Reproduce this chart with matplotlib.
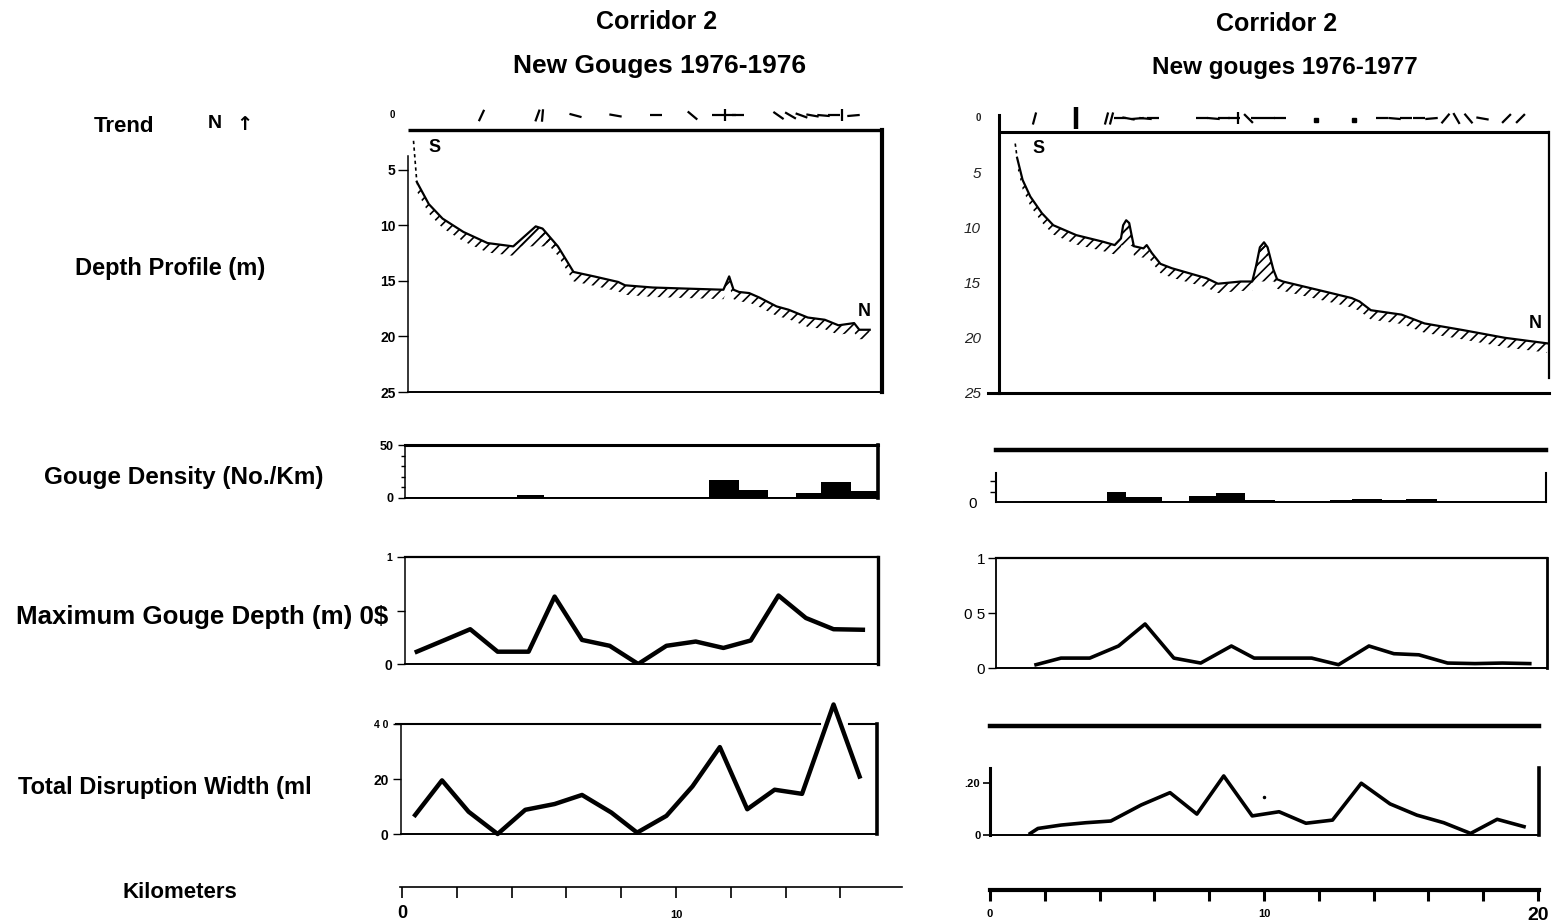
import matplotlib
matplotlib.use("Agg")
import matplotlib.pyplot as plt
import numpy as np

plt.rcParams["font.family"] = ["Liberation Sans", "DejaVu Sans"]
plt.rcParams["hatch.linewidth"] = 1.2

# ── values (x = km along corridor 2) ──
# left column: new gouges 1976-1976
prof_l_km = [0.42, 0.54, 0.98, 1.48, 2.24, 3.12, 4.06, 4.88, 5.13, 5.69, 6.26, 7.01,
             7.89, 8.14, 9.15, 10.41, 11.73, 11.94, 12.10, 12.30, 12.67, 13.04, 13.67,
             14.11, 14.81, 15.43, 15.93, 16.50, 16.69, 17.07]
prof_l_depth = [2.4, 6.1, 8.1, 9.4, 10.6, 11.6, 11.9, 10.1, 10.3, 11.9, 14.2, 14.6,
                15.1, 15.4, 15.6, 15.7, 15.8, 14.6, 15.8, 16.0, 16.1, 16.5, 17.3,
                17.6, 18.3, 18.5, 19.0, 18.8, 19.4, 19.4]
ridges_l = [(4.06, 5.69)]
trend_l_km = [2.87, 4.94, 5.12, 6.32, 7.77, 9.28, 10.60, 11.55, 11.80, 11.98, 12.25,
              13.74, 14.15, 14.55, 14.95, 15.35, 15.75, 16.05, 16.45]
trend_l_ang = [-25, -20, -5, 75, 80, 90, 50, 90, 0, 90, 90, 55, 60, 70, 80, 85, 90, 0, 95]

dens_l_edges = [0.16, 1.2, 4.2, 5.2, 11.2, 12.3, 13.36, 14.37, 15.31, 16.38, 17.32]
dens_l = [0.5, 1.2, 2.5, 1.2, 17, 8, 0.8, 4.5, 15.2, 6.3]

maxd_l_km = [0.54, 1.52, 2.49, 3.49, 4.62, 5.57, 6.57, 7.58, 8.62, 9.65, 10.72, 11.73,
             12.73, 13.74, 14.74, 15.75, 16.82]
maxd_l = [0.115, 0.22, 0.325, 0.115, 0.115, 0.63, 0.225, 0.17, 0.0, 0.17, 0.21, 0.15,
          0.22, 0.64, 0.43, 0.325, 0.32]

disr_l_km = [0.48, 1.46, 2.43, 3.49, 4.50, 5.57, 6.57, 7.64, 8.58, 9.65, 10.60, 11.60,
             12.60, 13.60, 14.60, 15.75, 16.70]
disr_l = [6.9, 19.5, 8.1, 0, 8.8, 10.9, 14.2, 7.8, 0.5, 6.6, 17.3, 31.6, 9.0, 16.1,
          14.6, 47.1, 20.9]

# right column: new gouges 1976-1977
prof_r_km = [0.92, 0.99, 1.19, 1.47, 1.89, 2.31, 3.15, 4.13, 4.55, 4.78, 4.86, 4.97,
             5.08, 5.16, 5.25, 5.60, 5.72, 5.90, 6.22, 6.64, 7.48, 7.90, 8.32, 9.15,
             9.57, 9.71, 9.85, 10.00, 10.13, 10.34, 10.48, 10.69, 11.53, 12.37, 13.20,
             13.48, 13.90, 15.02, 15.86, 17.26, 18.79, 20.33]
prof_r_depth = [2.4, 3.7, 5.7, 7.2, 8.7, 9.8, 10.7, 11.3, 11.6, 11.0, 9.8, 9.35,
                9.6, 10.6, 11.7, 11.9, 11.6, 12.3, 13.3, 13.7, 14.3, 14.6, 15.1, 14.9,
                14.9, 13.5, 11.8, 11.35, 11.8, 13.8, 14.7, 14.9, 15.4, 15.9, 16.4,
                16.7, 17.5, 17.9, 18.7, 19.3, 20.0, 20.5]
ridges_r = [(4.55, 5.25), (9.57, 10.69)]
trend_r_km = [1.61, 4.22, 4.42, 4.75, 5.05, 5.35, 5.65, 5.95, 7.75, 8.15, 8.55, 8.90,
              9.05, 9.40, 9.75, 10.20, 10.60, 14.30, 14.75, 15.20, 15.65, 16.10, 16.60,
              17.00, 17.45, 17.95, 18.85, 19.35]
trend_r_ang = [-15, -15, -15, 90, 80, 95, 85, 90, 90, 85, 90, 90, 0, 45, 90, 90, 90,
               90, 85, 90, 90, 95, -40, 30, 40, 80, -45, -45]
trend_r_bars = [3.15]
trend_r_dots = [11.88, 13.28]

dens_r_edges = [1.19, 4.27, 4.97, 6.29, 7.27, 8.25, 9.32, 10.41, 12.4, 13.2, 14.3,
                15.2, 16.3, 20.05]
dens_r = [1, 9.7, 4.8, 1, 5.5, 9, 2.3, 0.8, 1.5, 3.3, 1.5, 2.6, 0.5]

maxd_r_km = [1.68, 2.59, 3.64, 4.69, 5.66, 6.71, 7.69, 8.81, 9.64, 10.69, 11.74, 12.72,
             13.83, 14.74, 15.65, 16.70, 17.70, 18.70, 19.70]
maxd_r = [0.03, 0.09, 0.09, 0.2, 0.40, 0.09, 0.045, 0.2, 0.09, 0.09, 0.09, 0.03, 0.2,
          0.13, 0.12, 0.045, 0.04, 0.045, 0.04]

disr_r_km = [1.47, 1.75, 2.59, 3.50, 4.41, 5.52, 6.57, 7.55, 8.53, 9.57, 10.55, 11.53,
             12.50, 13.55, 14.60, 15.58, 16.56, 17.54, 18.51, 19.49]
disr_r = [0.6, 2.5, 3.8, 4.7, 5.35, 11.5, 16.2, 8.0, 22.6, 7.3, 8.9, 4.5, 5.7, 19.8,
          11.9, 7.6, 4.7, 0.6, 6.0, 3.2]
disr_r_stray = ([10.0], [14.6])

km_ticks_l = [0, 2, 4, 6, 8, 10, 12, 14, 16]
km_ticks_r = [0, 2, 4, 6, 8, 10, 12, 14, 16, 18, 20]

# ── layout helpers (pixel boxes of the 1557x922 plate) ──
W, H = 1557, 922
KM_PX = 27.4          # same km scale in both columns
fig = plt.figure(figsize=(W / 100, H / 100), dpi=100)


def panel(x0, y0, x1, y1, km0):
    # axes from a pixel box (top-left origin); 0 km sits at pixel km0
    ax = fig.add_axes([x0 / W, 1 - y1 / H, (x1 - x0) / W, (y1 - y0) / H])
    ax.set_xlim((x0 - km0) / KM_PX, (x1 - km0) / KM_PX)
    ax.set_xticks([])
    ax.patch.set_visible(False)
    return ax


def spines(ax, top=None, right=None, left=None, bottom=None):
    for name, lw in (("top", top), ("right", right), ("left", left), ("bottom", bottom)):
        if lw is None:
            ax.spines[name].set_visible(False)
        else:
            ax.spines[name].set_linewidth(lw)


def ftext(x, y, s, size, ha="center", **kw):
    fig.text(x / W, 1 - y / H, s, fontsize=size, fontweight="bold",
             ha=ha, va="baseline", **kw)


def draw_profile(ax, km, depth, ridges):
    km = np.array(km)
    depth = np.array(depth)
    ax.plot(km[:2], depth[:2], color="k", lw=1.2, ls=(0, (2, 2)))
    ax.plot(km[1:], depth[1:], color="k", lw=1.6)
    # seabed hatch hanging under the profile
    ax.fill_between(km[1:], depth[1:], depth[1:] + 0.85, facecolor="none",
                    edgecolor="k", hatch="///", lw=0)
    for a, b in ridges:
        m = (km >= a) & (km <= b)
        base = np.interp(km[m], [a, b], np.interp([a, b], km, depth))
        ax.fill_between(km[m], depth[m], base, facecolor="none",
                        edgecolor="k", hatch="///", lw=0)


def draw_trend(ax, kms, angs, y=0.1):
    for k, a in zip(kms, angs):
        ax.plot(k, y, marker=(2, 0, a), ms=9, mec="k", mew=1.6, clip_on=False)


# ── titles and row labels ──
ftext(657, 29, "Corridor 2", 18)
ftext(660, 73, "New Gouges 1976-1976", 19)
ftext(1277, 31, "Corridor 2", 18)
ftext(1285, 74, "New gouges 1976-1977", 17.5)

ftext(124, 132, "Trend", 16)
ftext(215, 128, "N", 14)
fig.text(244 / W, 1 - 130 / H, "↑", fontsize=14, fontweight="bold",
         ha="center", va="baseline", family="DejaVu Sans")
ftext(170, 275, "Depth Profile (m)", 17)
ftext(184, 484, "Gouge Density (No./Km)", 17.5)
ftext(388, 624, "Maximum Gouge Depth (m) 0$", 18.6, ha="right")
ftext(165, 794, "Total Disruption Width (ml", 17)
ftext(180, 898, "Kilometers", 16)

# ── left column ──
# trend + depth profile
ax = panel(408, 103, 882, 392, 402)
ax.set_ylim(25, -1)
draw_profile(ax, prof_l_km, prof_l_depth, ridges_l)
draw_trend(ax, trend_l_km, trend_l_ang)
ax.plot(ax.get_xlim(), [1.45, 1.45], color="k", lw=2.4, solid_capstyle="butt")
spines(ax, right=3.0, left=1.1, bottom=1.4)
ax.spines["right"].set_bounds(1.45, 25)
ax.spines["left"].set_bounds(3.8, 25)
ax.set_yticks([0, 5, 10, 15, 20, 25], ["0", "5", "10", "15", "20", "25"],
              fontsize=10, fontweight="bold")
ax.tick_params(axis="y", length=7, width=1.0, pad=2)
ax.yaxis.get_major_ticks()[0].tick1line.set_visible(False)
ax.get_yticklabels()[0].set_fontsize(7)
ax.text(1.17, 2.97, "S", fontsize=13, fontweight="bold", ha="center", va="center")
ax.text(16.88, 17.8, "N", fontsize=13, fontweight="bold", ha="center", va="center")

# gouge density
ax = panel(405, 445, 878, 498, 402)
ax.set_ylim(0, 50)
ax.stairs(dens_l, dens_l_edges, fill=True, color="k")
spines(ax, top=2.2, right=2.6, left=1.1, bottom=1.4)
ax.set_yticks([0, 50], ["0", "50"], fontsize=9, fontweight="bold")
ax.set_yticks([10, 20, 30, 40], minor=True)
ax.tick_params(axis="y", which="major", length=5, width=1, pad=3)
ax.tick_params(axis="y", which="minor", length=3, width=1)

# maximum gouge depth
ax = panel(405, 557, 878, 664, 402)
ax.set_ylim(0, 1)
ax.plot(maxd_l_km, maxd_l, color="k", lw=3.2)
spines(ax, top=1.6, right=2.4, left=1.1, bottom=1.4)
ax.set_yticks([0, 0.5, 1], ["0", "", "1"], fontsize=10, fontweight="bold")
ax.tick_params(axis="y", length=6, width=1, pad=3)
ax.get_yticklabels()[2].set_fontsize(7.5)

# total disruption width
ax = panel(401, 724, 876.5, 834, 402)
ax.set_ylim(0, 40)
ax.plot(disr_l_km, disr_l, color="k", lw=3.2, clip_on=False)
pk = disr_l_km[int(np.argmax(disr_l))]
x0, x1 = ax.get_xlim()
ax.plot([x0 - 0.2, pk - 0.5], [40, 40], color="k", lw=1.5, clip_on=False)
ax.plot([pk + 0.55, x1], [40, 40], color="k", lw=1.5, clip_on=False)
spines(ax, right=2.6, left=1.1, bottom=1.4)
ax.set_yticks([0, 20, 40], ["0", "20", "4 0"], fontsize=10, fontweight="bold")
ax.tick_params(axis="y", length=6, width=1, pad=3)
ax.get_yticklabels()[2].set_fontsize(7.5)

# km scale
ax = panel(400, 887, 902, 897, 402)
spines(ax, top=1.2)
ax.set_yticks([])
ax.xaxis.set_ticks_position("top")
ax.set_xticks(km_ticks_l)
ax.tick_params(axis="x", direction="in", length=8, width=1.2,
               labeltop=False, labelbottom=False)
ax.text(0, -2.1, "0", fontsize=13, fontweight="bold", ha="center", va="baseline",
        transform=ax.get_xaxis_transform())
ax.text(10, -2.1, "10", fontsize=8, fontweight="bold", ha="center", va="baseline",
        transform=ax.get_xaxis_transform())

# ── right column ──
ax = panel(999, 106, 1549, 393, 990)
ax.set_ylim(25, -1)
draw_profile(ax, prof_r_km, prof_r_depth, ridges_r)
draw_trend(ax, trend_r_km, trend_r_ang)
for k in trend_r_bars:
    ax.plot(k, 0.1, marker=(2, 0, 0), ms=16, mec="k", mew=3.2, clip_on=False)
ax.plot(trend_r_dots, [0.3] * len(trend_r_dots), "s", color="k", ms=3.5)
x0, x1 = ax.get_xlim()
ax.plot([x0, x1], [1.36, 1.36], color="k", lw=2.2, solid_capstyle="butt")
ax.plot([x0 - 0.4, x0], [25, 25], color="k", lw=2.2, clip_on=False)
spines(ax, right=1.6, left=2.2, bottom=2.2)
ax.spines["right"].set_bounds(1.36, 23.6)
ax.spines["left"].set_bounds(-0.2, 25)
ax.set_yticks([0, 5, 10, 15, 20, 25], ["0", "5", "10", "15", "20", "25"],
              fontsize=11, style="italic", color="#222222")
ax.tick_params(axis="y", length=0, pad=13)
lbl0 = ax.get_yticklabels()[0]
lbl0.set_fontsize(7)
lbl0.set_fontweight("bold")
lbl0.set_style("normal")
ax.text(1.76, 2.84, "S", fontsize=13, fontweight="bold", ha="center", va="center")
ax.text(19.9, 18.7, "N", fontsize=13, fontweight="bold", ha="center", va="center")

# gouge density
ax = panel(996, 450, 1546, 502, 990)
ax.set_ylim(0, 50)
ax.stairs(dens_r, dens_r_edges, fill=True, color="k")
spines(ax, top=3.2, right=1.5, left=1.5, bottom=1.4)
ax.spines["left"].set_bounds(0, 28)
ax.spines["right"].set_bounds(0, 28)
ax.set_yticks([0], ["0"], fontsize=11)
ax.set_yticks([10, 20], minor=True)
ax.tick_params(axis="y", which="major", length=0, pad=14)
ax.tick_params(axis="y", which="minor", length=4, width=1)

# maximum gouge depth
ax = panel(996, 558, 1547, 668, 990)
ax.set_ylim(0, 1)
ax.plot(maxd_r_km, maxd_r, color="k", lw=2.6)
spines(ax, top=1.6, right=2.0, left=1.3, bottom=1.4)
ax.set_yticks([0, 0.5, 1], ["0", "0 5", "1"], fontsize=11)
ax.tick_params(axis="y", length=6, width=1, pad=2)

# total disruption width
ax = panel(990, 726, 1539, 835, 990)
ax.set_ylim(0, 41.7)
ax.plot(disr_r_km, disr_r, color="k", lw=2.6)
ax.plot(*disr_r_stray, "k.", ms=3)
spines(ax, top=3.2, right=2.6, left=2.2, bottom=1.4)
ax.spines["left"].set_bounds(0, 25.5)
ax.spines["right"].set_bounds(0, 25.5)
ax.set_yticks([0, 20], ["0", ".20"], fontsize=8, fontweight="bold")
ax.tick_params(axis="y", length=5, width=1.2, pad=2)

# km scale
ax = panel(990, 890, 1539, 900, 990)
spines(ax, top=3.0)
ax.set_yticks([])
ax.xaxis.set_ticks_position("top")
ax.set_xticks(km_ticks_r)
ax.tick_params(axis="x", direction="in", length=8, width=2.2,
               labeltop=False, labelbottom=False)
ax.text(0, -1.7, "0", fontsize=8, fontweight="bold", ha="center", va="baseline",
        transform=ax.get_xaxis_transform())
ax.text(10, -1.7, "10", fontsize=8, fontweight="bold", ha="center", va="baseline",
        transform=ax.get_xaxis_transform())
ax.text(20, -2.0, "20", fontsize=14, fontweight="bold", ha="center", va="baseline",
        transform=ax.get_xaxis_transform())

fig.savefig("out.png", dpi=100)
